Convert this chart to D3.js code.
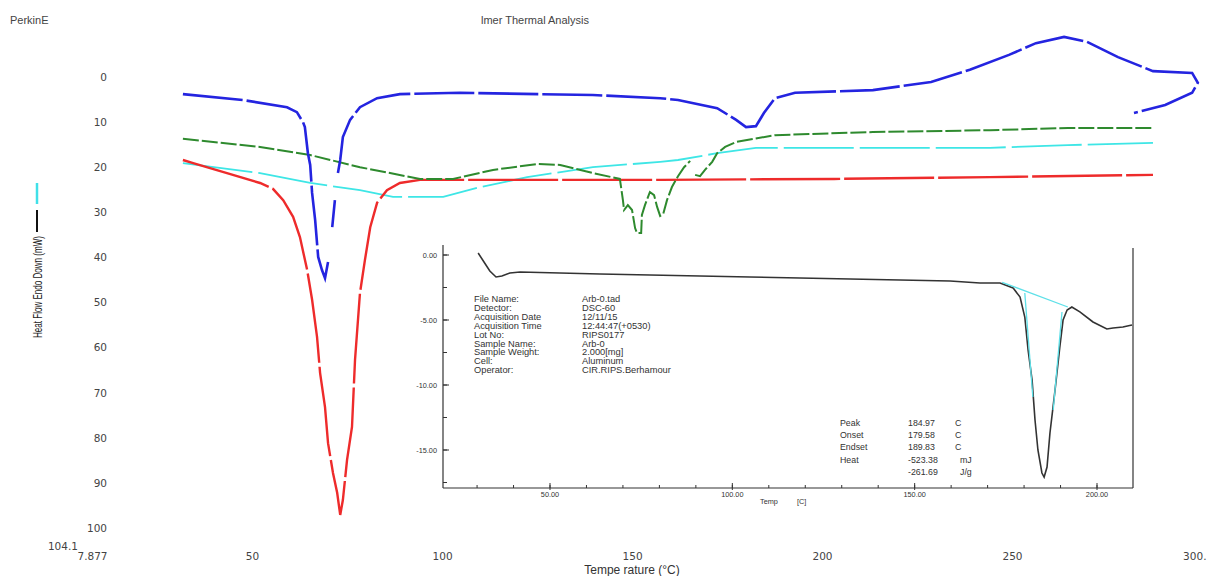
<!DOCTYPE html>
<html><head><meta charset="utf-8">
<script src="https://cdn.jsdelivr.net/npm/d3@7"></script>
<style>body{margin:0;background:#fff;} svg{display:block;}</style>
</head><body><svg id="c" width="1208" height="576"></svg>
<script>
// ---------- main chart data ----------
const xTickValues = [7.877, 50, 100, 150, 200, 250, 300];
const xTickLabels = ["7.877", "50", "100", "150", "200", "250", "300."];
const yTickValues = [0, 10, 20, 30, 40, 50, 60, 70, 80, 90, 100, 104.1];
const yTickLabels = ["0", "10", "20", "30", "40", "50", "60", "70", "80", "90", "100", "104.1"];

const blueSeries = [[31.8,3.8],[47.6,5.1],[59.2,6.7],[61.8,7.8],[63.4,10.0],[63.9,11.1],[64.7,16.9],[65.3,19.5],[65.8,25.7],[66.6,31.7],[67.4,39.9],[68.4,42.8],[69.2,44.6],[70.0,41.0],null,
  [71.1,33.3],[71.8,27.3],null,
  [72.6,21.3],[73.2,18.4],[73.9,13.3],[75.8,9.5],[78.4,6.7],[82.9,4.7],[88.9,3.8],[104.7,3.5],[139.7,4.0],[157.4,4.7],[162.1,5.1],[172.4,6.9],[177.4,9.5],[180.0,11.1],[182.6,10.9],[184.7,8.0],[187.6,4.7],[192.9,3.5],[213.4,2.9],[228.7,1.1],[238.9,-1.6],[249.2,-4.9],[256.3,-7.5],[263.7,-8.9],[269.7,-7.8],[277.9,-4.4],[287.1,-1.3],[297.4,-0.9],[298.9,1.3],[297.4,3.5],[290.3,6.2],[282.1,8.0]];

const redSeries = [[31.8,18.4],[34.5,19.1],[43.4,21.3],[52.1,23.5],[55.5,24.8],[58.2,27.3],[60.8,31.0],[62.6,35.5],[64.5,42.8],[65.8,49.4],[67.1,57.6],[67.9,65.6],[69.2,73.2],[70.0,81.2],[71.3,87.8],[72.4,92.2],[73.2,97.1],[73.9,93.8],[75.0,84.9],[76.3,77.6],[77.1,62.7],[78.4,47.9],[79.7,40.6],[81.1,33.3],[82.9,27.9],[85.5,25.1],[88.9,23.5],[94.2,22.8],[97.6,22.8],[157.4,22.8],[203.2,22.6],[244.2,22.2],[287.1,21.7]];

const greenSeries = [[31.8,13.7],[52.1,15.5],[65.3,17.3],[78.4,20.0],[94.2,22.6],[102.9,22.6],[113.4,20.6],[125.0,19.3],[131.1,19.5],[139.7,21.3],[146.8,22.6],[147.6,27.3],[147.9,29.5],[148.9,28.4],[150.0,29.5],[150.8,33.5],[151.3,34.6],[152.4,34.6],[152.6,30.6],[153.4,28.4],[154.7,25.5],[155.8,26.2],[156.6,28.8],[157.4,30.8],[158.2,30.4],[159.2,27.3],[160.5,24.4],[162.1,22.0],[163.7,20.0],[165.3,18.6],null,
  [166.6,21.7],[167.9,22.0],[169.2,20.6],[171.1,18.8],[172.4,16.9],[174.5,15.5],[177.4,14.4],[187.6,12.9],[213.4,12.2],[244.2,11.8],[264.7,11.3],[287.1,11.3]];

const cyanSeries = [[31.8,19.1],[52.1,21.3],[65.3,23.5],[78.4,25.1],[87.1,26.6],[100.3,26.6],[109.2,24.6],[122.4,22.2],[139.7,20.0],[157.4,18.8],[162.1,18.4],[172.4,16.9],[182.6,15.7],[213.4,15.7],[244.2,15.7],[264.7,15.1],[287.1,14.6]];

// ---------- inset data ----------
const insetXTicks = [50, 100, 150, 200];
const insetXTickLabels = ["50.00", "100.00", "150.00", "200.00"];
const insetYTicks = [0, -5, -10, -15];
const insetYTickLabels = ["0.00", "-5.00", "-10.00", "-15.00"];
const insetCurve = [[30.3,0.15],[31.9,-0.54],[33.5,-1.23],[35.2,-1.69],[36.8,-1.62],[39.0,-1.38],[41.8,-1.31],[52.7,-1.38],[63.7,-1.46],[77.4,-1.54],[91.1,-1.62],[104.8,-1.69],[118.5,-1.77],[132.3,-1.85],[146.0,-1.92],[159.7,-2.0],[167.9,-2.15],[173.4,-2.15],[177.0,-2.54],[178.9,-3.23],[180.2,-4.77],[181.1,-7.31],[182.2,-9.62],[183.0,-12.69],[183.8,-15.0],[184.9,-16.77],[185.5,-17.08],[186.3,-16.31],[187.1,-13.69],[188.5,-10.38],[189.8,-7.08],[190.7,-5.0],[191.8,-4.23],[193.1,-4.0],[195.3,-4.38],[198.9,-5.15],[202.7,-5.69],[204.4,-5.62],[207.1,-5.54],[209.6,-5.38]];
const insetBaseline = [[174.0,-2.1],[192.0,-4.0]];
const insetLeftTangent = [[180.2,-2.92],[182.4,-10.92]];
const insetRightTangent = [[190.4,-4.38],[188.0,-11.92]];

const infoLabels = ["File Name:", "Detector:", "Acquisition Date", "Acquisition Time", "Lot No:", "Sample Name:", "Sample Weight:", "Cell:", "Operator:"];
const infoValues = ["Arb-0.tad", "DSC-60", "12/11/15", "12:44:47(+0530)", "RIPS0177", "Arb-0", "2.000[mg]", "Aluminum", "CIR.RIPS.Berhamour"];
const peakLabels = ["Peak", "Onset", "Endset", "Heat", ""];
const peakValues = ["184.97", "179.58", "189.83", "-523.38", "-261.69"];
const peakUnits = ["C", "C", "C", "mJ", "J/g"];

// ---------- drawing ----------
const svg = d3.select("#c");
const sans = "'Liberation Sans', Arial, sans-serif";
const wide = "'DejaVu Sans', Verdana, sans-serif";

const x = d3.scaleLinear().domain([7.877, 300]).range([92, 1202]);
const y = d3.scaleLinear().domain([0, 104.1]).range([77, 546.5]);

// header texts
svg.append("text").attr("x", 10).attr("y", 24).attr("font-family", sans).attr("font-size", 11).attr("fill", "#444").text("PerkinE");
svg.append("text").attr("x", 481).attr("y", 24).attr("font-family", sans).attr("font-size", 11).attr("fill", "#444").text("lmer Thermal Analysis");

// axes (labels only)
const xAxis = d3.axisBottom(x).tickValues(xTickValues).tickFormat((d, i) => xTickLabels[i]).tickSize(0).tickPadding(0);
const gx = svg.append("g").attr("transform", "translate(0,553)").call(xAxis);
gx.select(".domain").remove();
gx.selectAll("text").attr("font-family", wide).attr("font-size", 10.5).attr("fill", "#444").attr("dy", "0.71em");
gx.selectAll("text").filter((d, i) => i === xTickValues.length - 1).attr("text-anchor", "end").attr("dx", 4);

const yAxis = d3.axisLeft(y).tickValues(yTickValues).tickFormat((d, i) => yTickLabels[i]).tickSize(0).tickPadding(0);
const gy = svg.append("g").attr("transform", "translate(107,0)").call(yAxis);
gy.select(".domain").remove();
gy.selectAll("text").attr("font-family", wide).attr("font-size", 10.5).attr("fill", "#444");
gy.selectAll("text").filter(d => d === 104.1).attr("dx", -29);

svg.append("text").attr("x", 632).attr("y", 574).attr("text-anchor", "middle").attr("font-family", sans).attr("font-size", 12).attr("fill", "#333").text("Tempe rature (°C)");

// y axis title with legend swatches
svg.append("line").attr("x1", 37).attr("x2", 37).attr("y1", 183).attr("y2", 204).attr("stroke", "#40e0e8").attr("stroke-width", 2.5);
svg.append("line").attr("x1", 37).attr("x2", 37).attr("y1", 210).attr("y2", 232).attr("stroke", "#111").attr("stroke-width", 2);
svg.append("text").attr("transform", "translate(42,287) rotate(-90)").attr("text-anchor", "middle")
  .attr("font-family", sans).attr("font-size", 13).attr("fill", "#222")
  .attr("textLength", 102).attr("lengthAdjust", "spacingAndGlyphs")
  .text("Heat Flow Endo Down (mW)");

const line = d3.line().defined(d => d !== null).x(d => x(d[0])).y(d => y(d[1]));

svg.append("path").datum(cyanSeries).attr("d", line).attr("fill", "none").attr("stroke", "#3ee6e6").attr("stroke-width", 1.8).attr("stroke-dasharray", "70,6");
svg.append("path").datum(redSeries).attr("d", line).attr("fill", "none").attr("stroke", "#ee2b2b").attr("stroke-width", 2.4).attr("stroke-dasharray", "90,4");
svg.append("path").datum(greenSeries).attr("d", line).attr("fill", "none").attr("stroke", "#2e8a2e").attr("stroke-width", 2).attr("stroke-dasharray", "16,3");
svg.append("path").datum(blueSeries).attr("d", line).attr("fill", "none").attr("stroke", "#2424e0").attr("stroke-width", 2.6).attr("stroke-dasharray", "60,4");

// ---------- inset ----------
const ix = d3.scaleLinear().domain([50, 200]).range([550, 1097]);
const iy = d3.scaleLinear().domain([0, -15]).range([255, 450]);
const iLeft = 443, iRight = 1133, iTop = 245, iBottom = 488;

const ig = svg.append("g");
ig.append("rect").attr("x", iLeft).attr("y", iTop).attr("width", iRight - iLeft).attr("height", iBottom - iTop).attr("fill", "#fff");
ig.append("line").attr("x1", iLeft).attr("x2", iLeft).attr("y1", iTop).attr("y2", iBottom).attr("stroke", "#333").attr("stroke-width", 1.2);
ig.append("line").attr("x1", iLeft).attr("x2", iRight).attr("y1", iBottom).attr("y2", iBottom).attr("stroke", "#333").attr("stroke-width", 1.2);
ig.append("line").attr("x1", iRight).attr("x2", iRight).attr("y1", 248).attr("y2", iBottom).attr("stroke", "#333").attr("stroke-width", 1.2);

// inset y ticks
ig.selectAll(".iym").data(d3.range(0, -17.6, -2.5)).join("line")
  .attr("x1", iLeft).attr("x2", iLeft + 4).attr("y1", d => iy(d)).attr("y2", d => iy(d)).attr("stroke", "#333");
ig.selectAll(".iyM").data(insetYTicks).join("line")
  .attr("x1", iLeft).attr("x2", iLeft + 6).attr("y1", d => iy(d)).attr("y2", d => iy(d)).attr("stroke", "#333");
ig.selectAll(".iyl").data(insetYTicks).join("text")
  .attr("x", 437).attr("y", d => iy(d) + 2.5).attr("text-anchor", "end").attr("font-family", sans).attr("font-size", 7.3).attr("fill", "#333")
  .text((d, i) => insetYTickLabels[i]);

// inset x ticks
ig.selectAll(".ixm").data(d3.range(30, 210, 10)).join("line")
  .attr("x1", d => ix(d)).attr("x2", d => ix(d)).attr("y1", iBottom).attr("y2", iBottom - 3).attr("stroke", "#333");
ig.selectAll(".ixM").data(insetXTicks).join("line")
  .attr("x1", d => ix(d)).attr("x2", d => ix(d)).attr("y1", iBottom + 2).attr("y2", iBottom - 5).attr("stroke", "#333");
ig.selectAll(".ixl").data(insetXTicks).join("text")
  .attr("x", d => ix(d)).attr("y", 497).attr("text-anchor", "middle").attr("font-family", sans).attr("font-size", 7.3).attr("fill", "#333")
  .text((d, i) => insetXTickLabels[i]);
ig.append("text").attr("x", 760).attr("y", 504).attr("font-family", sans).attr("font-size", 7.3).attr("fill", "#333").text("Temp");
ig.append("text").attr("x", 797).attr("y", 504).attr("font-family", sans).attr("font-size", 7.3).attr("fill", "#333").text("[C]");

const iline = d3.line().x(d => ix(d[0])).y(d => iy(d[1]));
ig.append("path").datum(insetCurve).attr("d", iline).attr("fill", "none").attr("stroke", "#333").attr("stroke-width", 1.6);
[insetBaseline, insetLeftTangent, insetRightTangent].forEach(seg => {
  ig.append("path").datum(seg).attr("d", iline).attr("fill", "none").attr("stroke", "#5ee0e8").attr("stroke-width", 1.3);
});

// info block
ig.selectAll(".il").data(infoLabels).join("text")
  .attr("x", 474).attr("y", (d, i) => 302 + i * 8.9).attr("font-family", sans).attr("font-size", 9.3).attr("fill", "#333").text(d => d);
ig.selectAll(".iv").data(infoValues).join("text")
  .attr("x", 582).attr("y", (d, i) => 302 + i * 8.9).attr("font-family", sans).attr("font-size", 9.3).attr("fill", "#333").text(d => d);

ig.selectAll(".pl").data(peakLabels).join("text")
  .attr("x", 840).attr("y", (d, i) => 426 + i * 12.2).attr("font-family", sans).attr("font-size", 8.8).attr("fill", "#333").text(d => d);
ig.selectAll(".pv").data(peakValues).join("text")
  .attr("x", 908).attr("y", (d, i) => 426 + i * 12.2).attr("font-family", sans).attr("font-size", 8.8).attr("fill", "#333").text(d => d);
ig.selectAll(".pu").data(peakUnits).join("text")
  .attr("x", (d, i) => i < 3 ? 955 : 960).attr("y", (d, i) => 426 + i * 12.2).attr("font-family", sans).attr("font-size", 8.8).attr("fill", "#333").text(d => d);
</script></body></html>
